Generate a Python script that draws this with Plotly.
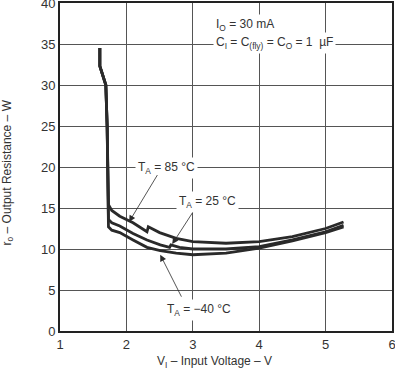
import plotly.graph_objects as go

# Data
t85_x = [1.60, 1.60, 1.62, 1.69, 1.71, 1.72, 1.73, 1.78, 1.90, 2.10, 2.31, 2.33, 2.50, 2.75, 3.0, 3.5, 4.0, 4.5, 5.0, 5.27]
t85_y = [34.5, 32.3, 31.8, 30.0, 25.0, 20.0, 15.4, 14.7, 14.0, 13.2, 12.1, 12.7, 12.0, 11.3, 10.9, 10.7, 10.9, 11.5, 12.5, 13.3]

t25_x = [1.60, 1.60, 1.62, 1.69, 1.71, 1.72, 1.73, 1.78, 1.90, 2.10, 2.31, 2.51, 2.65, 2.67, 2.8, 3.0, 3.5, 4.0, 4.5, 5.0, 5.27]
t25_y = [34.5, 32.3, 31.8, 30.0, 25.0, 20.0, 13.6, 13.2, 12.8, 11.9, 11.1, 10.5, 10.2, 10.5, 10.2, 10.0, 10.0, 10.3, 11.1, 12.1, 12.9]

tm40_x = [1.60, 1.60, 1.62, 1.69, 1.71, 1.72, 1.73, 1.78, 1.90, 2.10, 2.31, 2.51, 2.75, 3.0, 3.5, 4.0, 4.5, 5.0, 5.27]
tm40_y = [34.5, 32.3, 31.8, 30.0, 25.0, 20.0, 12.7, 12.3, 12.0, 11.1, 10.2, 9.8, 9.5, 9.3, 9.5, 10.1, 11.0, 12.0, 12.7]

x_ticks = [1, 2, 3, 4, 5, 6]
y_ticks = [0, 5, 10, 15, 20, 25, 30, 35, 40]

x_title = "V<sub>I</sub> – Input Voltage – V"
y_title = "r<sub>o</sub> – Output Resistance – W"

FONT = "Liberation Sans, Arial, sans-serif"
TXT = "#333333"
LINE = "#2a2a2a"

fig = go.Figure()
for xs, ys in [(t85_x, t85_y), (t25_x, t25_y), (tm40_x, tm40_y)]:
    fig.add_trace(go.Scatter(x=xs, y=ys, mode="lines",
                             line=dict(color=LINE, width=2.8),
                             showlegend=False, hoverinfo="skip"))

annotations = [
    dict(x=3.30, y=37.3, text="I<sub>O</sub> = 30 mA", xanchor="left"),
    dict(x=3.30, y=35.1, text="C<sub>I</sub> = C<sub>(fly)</sub> = C<sub>O</sub> = 1  µF", xanchor="left"),
    dict(x=2.60, y=19.9, text="T<sub>A</sub> = 85 °C", xanchor="center"),
    dict(x=3.22, y=15.7, text="T<sub>A</sub> = 25 °C", xanchor="center"),
    dict(x=3.10, y=2.6, text="T<sub>A</sub> = −40 °C", xanchor="center"),
]
anns = []
for a in annotations:
    anns.append(dict(x=a["x"], y=a["y"], xref="x", yref="y", text=a["text"],
                     xanchor=a["xanchor"], yanchor="middle", showarrow=False,
                     bgcolor="white", font=dict(family=FONT, size=12, color=TXT),
                     borderpad=2))

arrows = [
    ((2.04, 13.3), (2.48, 19.2)),
    ((2.69, 10.6), (3.01, 14.6)),
    ((2.51, 9.3), (2.84, 4.0)),
]
for (tx, ty), (sx, sy) in arrows:
    anns.append(dict(x=tx, y=ty, ax=sx, ay=sy, xref="x", yref="y", axref="x", ayref="y",
                     text="", showarrow=True, arrowhead=2, arrowsize=1.6, arrowwidth=0.8,
                     arrowcolor=LINE))

# axis titles as paper-anchored annotations for exact placement
anns.append(dict(x=0.464, y=-0.0945, xref="paper", yref="paper", text=x_title,
                 showarrow=False, xanchor="center", yanchor="middle",
                 font=dict(family=FONT, size=12, color=TXT)))
anns.append(dict(x=-0.158, y=0.482, xref="paper", yref="paper", text=y_title,
                 showarrow=False, xanchor="center", yanchor="middle", textangle=-90,
                 font=dict(family=FONT, size=12, color=TXT)))

fig.update_layout(
    width=395, height=369,
    margin=dict(l=60, r=3, t=3, b=38),
    paper_bgcolor="white", plot_bgcolor="white",
    font=dict(family=FONT, size=13, color=TXT),
    annotations=anns,
    xaxis=dict(range=[1, 6], tickvals=x_ticks, ticktext=[str(v) for v in x_ticks],
               showgrid=True, gridcolor="#555555", gridwidth=1,
               showline=True, linecolor="#222222", linewidth=2, mirror=True,
               ticks="", zeroline=False, ticklabeloverflow="allow", automargin=False),
    yaxis=dict(range=[0, 40], tickvals=y_ticks, ticktext=[str(v) for v in y_ticks],
               showgrid=True, gridcolor="#555555", gridwidth=1,
               showline=True, linecolor="#222222", linewidth=2, mirror=True,
               ticks="", zeroline=False, ticklabeloverflow="allow", automargin=False),
)

fig.write_html("out.html", config={"displayModeBar": False},
               post_script="document.body.style.margin='0';document.body.style.padding='0';")
